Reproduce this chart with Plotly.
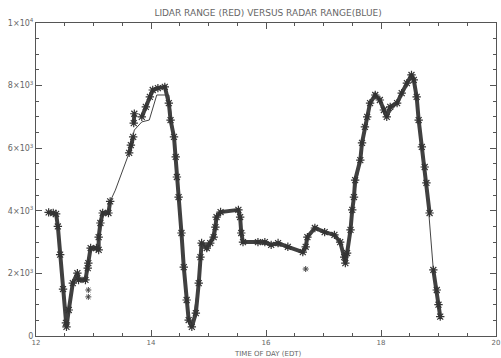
import plotly.graph_objects as go

# ---- data ----
# Lidar range (dense marker band); None marks gaps in the record
lidar_t = [12.22, 12.30, 12.35, 12.38, 12.42, 12.47, 12.52, 12.53, 12.57, 12.64, 12.72, 12.74,
           12.86, 12.90, 12.91, 12.95, 13.05, 13.09, 13.09, 13.12, 13.16, 13.26, 13.29, None,
           13.62, 13.65, 13.69, None,
           13.70, 13.71, None,
           13.84, 13.91, 13.98, 14.03, 14.12, 14.24, 14.31, 14.34, 14.40, 14.43, 14.45, 14.48,
           14.53, 14.57, 14.62, 14.655, 14.71, 14.78, 14.83, 14.86, 14.88, 14.97, 15.03, 15.09,
           15.12, 15.14, 15.21, 15.52, 15.55, 15.57, 15.60, 15.86, 15.98, 16.09, 16.21, 16.38,
           16.64, 16.69, 16.72, 16.85, 17.02, 17.19, 17.29, 17.36, 17.38, 17.41, 17.47, 17.50,
           17.53, 17.55, 17.64, 17.67, 17.72, 17.76, 17.81, 17.90, 17.98, 18.05, 18.10, 18.16,
           18.28, 18.36, 18.45, 18.53, 18.57, 18.62, 18.655, 18.71, 18.76, 18.79, 18.845, None,
           18.91, 18.97, 19.00, 19.03]
lidar_r = [3950, 3930, 3900, 3500, 2600, 1500, 420, 290, 830, 1690, 2010, 1790,
           1790, 2170, 2330, 2810, 2810, 2750, 3160, 3610, 3930, 3930, 4300, None,
           5850, 6100, 6360, None,
           6800, 7100, None,
           7000, 7320, 7640, 7860, 7920, 7960, 7440, 6900, 6360, 5720, 5080, 4440,
           3290, 2200, 1150, 510, 290, 730, 1690, 2520, 2970, 2810, 2970, 3160,
           3480, 3800, 3960, 4030, 3800, 3290, 3000, 3000, 3000, 2910, 2970, 2850,
           2680, 2850, 3160, 3450, 3320, 3230, 3000, 2520, 2330, 2650, 3390, 4030,
           4440, 4980, 5620, 6170, 6680, 7000, 7440, 7700, 7540, 7220, 7000, 7320,
           7440, 7760, 8080, 8340, 8180, 7640, 6900, 6040, 5400, 4890, 3930, None,
           2110, 1470, 1000, 620]

# isolated lidar returns
outlier_t = [12.91, 12.91, 16.69]
outlier_r = [1470, 1250, 2140]

# Radar range (thin line)
radar_t = [12.22, 12.35, 12.42, 12.52, 12.57, 12.64, 12.72, 12.74, 12.86, 12.91, 12.95, 13.09,
           13.16, 13.26, 13.29, 13.38, 13.62, 13.71, 13.84, 13.97, 14.10, 14.31, 14.40, 14.48,
           14.57, 14.655, 14.71, 14.83, 14.88, 15.03, 15.14, 15.21, 15.52, 15.60, 16.09, 16.38,
           16.64, 16.72, 16.85, 17.19, 17.29, 17.38, 17.47, 17.53, 17.64, 17.72, 17.81, 17.90,
           17.98, 18.10, 18.28, 18.45, 18.53, 18.62, 18.71, 18.79, 18.85, 18.91, 18.97, 19.03]
radar_r = [3950, 3900, 2600, 420, 830, 1690, 2010, 1790, 1790, 2330, 2810, 2810,
           3930, 3930, 4300, 4660, 5850, 6580, 6840, 6900, 7700, 7700, 6360, 4440,
           2200, 510, 290, 1690, 2970, 2970, 3800, 3960, 4030, 3000, 2910, 2850,
           2680, 3160, 3450, 3230, 3000, 2330, 3390, 4440, 5620, 6680, 7440, 7700,
           7540, 7000, 7440, 8080, 8340, 7640, 6040, 4890, 3390, 2110, 1470, 620]

x_tickvals = [12, 14, 16, 18, 20]
x_ticktext = ["12", "14", "16", "18", "20"]
y_tickvals = [0, 2000, 4000, 6000, 8000, 10000]
y_ticktext = ["0", "2×10<sup>3</sup>", "4×10<sup>3</sup>", "6×10<sup>3</sup>",
              "8×10<sup>3</sup>", "1×10<sup>4</sup>"]

ink = "#555555"
txt = "#666666"
font = dict(family="DejaVu Sans", size=8, color=txt)

fig = go.Figure()
fig.add_trace(go.Scatter(x=radar_t, y=radar_r, mode="lines",
                         line=dict(color="#444444", width=1), showlegend=False))
fig.add_trace(go.Scatter(x=lidar_t, y=lidar_r, mode="lines+markers",
                         line=dict(color="#404040", width=4),
                         marker=dict(symbol="asterisk-open", size=7, color="#333333",
                                     line=dict(color="#333333", width=1.2)),
                         connectgaps=False, showlegend=False))
fig.add_trace(go.Scatter(x=outlier_t, y=outlier_r, mode="markers",
                         marker=dict(symbol="asterisk-open", size=5, color="#444444",
                                     line=dict(color="#444444", width=1)),
                         showlegend=False))

fig.update_layout(
    width=501, height=358,
    margin=dict(l=36, r=1, t=23, b=22),
    paper_bgcolor="white", plot_bgcolor="white",
    font=font,
    title=dict(text="LIDAR RANGE (RED) VERSUS RADAR RANGE(BLUE)",
               x=0.535, xanchor="center", y=0.965, yanchor="middle",
               font=dict(family="DejaVu Sans", size=9, color=txt)),
    annotations=[dict(text="TIME OF DAY (EDT)", xref="paper", yref="paper",
                      x=0.505, y=-0.056, xanchor="center", yanchor="middle",
                      showarrow=False,
                      font=dict(family="DejaVu Sans", size=7, color=txt))],
)
fig.update_xaxes(range=[12, 20], tickvals=x_tickvals, ticktext=x_ticktext,
                 showgrid=False, zeroline=False, showline=True, mirror="ticks",
                 linecolor=ink, linewidth=1, ticks="inside", ticklen=6,
                 tickcolor=ink, tickfont=dict(family="DejaVu Sans", size=7, color=txt),
                 ticklabeloverflow="allow",
                 minor=dict(dtick=0.5, ticks="inside", ticklen=3, tickcolor=ink))
fig.update_yaxes(range=[0, 10000], tickvals=y_tickvals, ticktext=y_ticktext,
                 showgrid=False, zeroline=False, showline=True, mirror="ticks",
                 linecolor=ink, linewidth=1, ticks="inside", ticklen=6,
                 tickcolor=ink, tickfont=dict(family="DejaVu Sans", size=8, color=txt),
                 minor=dict(dtick=500, ticks="inside", ticklen=3, tickcolor=ink))

fig.write_html("out.html", config={"displayModeBar": False},
               post_script="document.body.style.margin='0';document.body.style.overflow='hidden';")
